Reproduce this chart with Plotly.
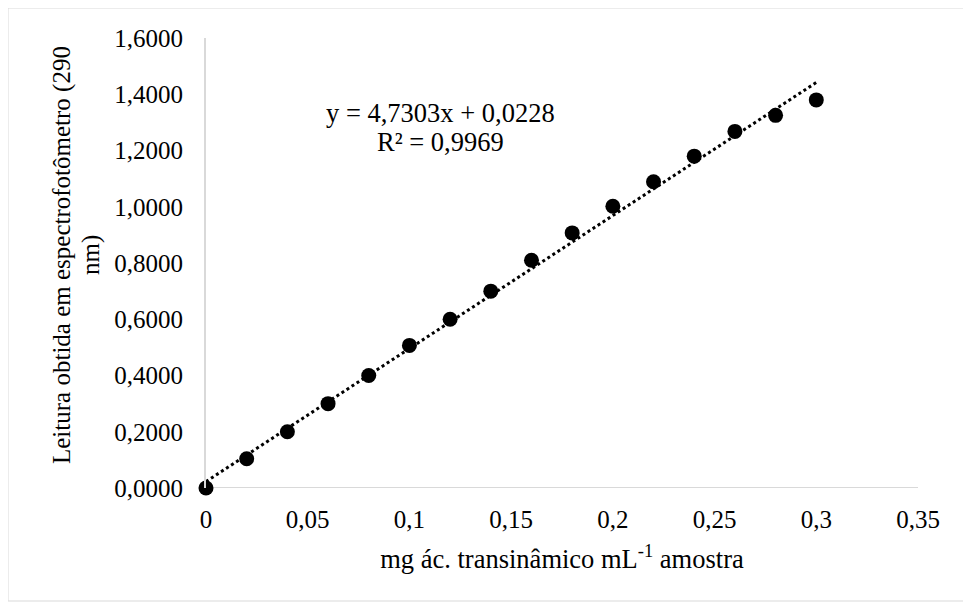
import plotly.graph_objects as go

# Data
conc = [0, 0.02, 0.04, 0.06, 0.08, 0.10, 0.12, 0.14, 0.16, 0.18, 0.20, 0.22, 0.24, 0.26, 0.28, 0.30]
absorb = [0.0, 0.104, 0.200, 0.300, 0.400, 0.507, 0.600, 0.700, 0.810, 0.907, 1.002, 1.089, 1.180, 1.268, 1.325, 1.380]
slope = 4.7303
intercept = 0.0228
r2 = 0.9969
x_ticks = [0, 0.05, 0.10, 0.15, 0.20, 0.25, 0.30, 0.35]
x_tick_text = ["0", "0,05", "0,1", "0,15", "0,2", "0,25", "0,3", "0,35"]
y_ticks = [0, 0.2, 0.4, 0.6, 0.8, 1.0, 1.2, 1.4, 1.6]
y_tick_text = ["0,0000", "0,2000", "0,4000", "0,6000", "0,8000", "1,0000", "1,2000", "1,4000", "1,6000"]
eq_lines = ["y = 4,7303x + 0,0228", "R² = 0,9969"]
y_title_lines = ["Leitura obtida em espectrofotômetro (290", "nm)"]
x_title = "mg ác. transinâmico mL<sup>-1</sup> amostra"

trend_x = [conc[0], conc[-1]]
trend_y = [slope * v + intercept for v in trend_x]

FONT = "Liberation Serif, Times New Roman, serif"
FS = 25
FS_EQ = 26.5

L, R, T, B = 198, 61, 30, 125
W, H = 971, 605
pw, ph = W - L - R, H - T - B

fig = go.Figure()
fig.add_trace(go.Scatter(x=trend_x, y=trend_y, mode="lines",
                         line=dict(color="black", width=3, dash="dot"),
                         hoverinfo="skip", showlegend=False, cliponaxis=False))
fig.add_trace(go.Scatter(x=conc, y=absorb, mode="markers",
                         marker=dict(color="black", size=15),
                         showlegend=False, cliponaxis=False))

fig.add_annotation(x=0.1151, y=1.333, xref="x", yref="y", text=eq_lines[0],
                   showarrow=False, font=dict(family=FONT, size=FS_EQ, color="black"))
fig.add_annotation(x=0.1151, y=1.231, xref="x", yref="y", text=eq_lines[1],
                   showarrow=False, font=dict(family=FONT, size=FS_EQ, color="black"))

for fx, line in zip([54, 83], y_title_lines):
    fig.add_annotation(x=(fx - L) / pw, y=(H - B - 247) / ph, xref="paper", yref="paper",
                       text=line, textangle=-90, showarrow=False,
                       xanchor="center", yanchor="middle",
                       font=dict(family=FONT, size=FS, color="black"))

fig.add_shape(type="rect", xref="paper", yref="paper",
              x0=(0 - L) / pw, x1=(960 - L) / pw,
              y0=(H - B - 593) / ph, y1=(H - B - 0) / ph,
              line=dict(color="#d9d9d9", width=1), fillcolor="rgba(0,0,0,0)", layer="below")
fig.add_shape(type="line", xref="x", yref="y", x0=0, x1=0.35, y0=0, y1=0,
              line=dict(color="#d9d9d9", width=2), layer="below")

fig.update_layout(
    width=W, height=H,
    margin=dict(l=L, r=R, t=T, b=B, autoexpand=False),
    plot_bgcolor="white", paper_bgcolor="white",
    font=dict(family=FONT, size=FS, color="black"),
    xaxis=dict(range=[0, 0.35], tickvals=x_ticks, ticktext=x_tick_text,
               showgrid=False, zeroline=False, showline=False, automargin=False,
               ticks="outside", ticklen=9, tickcolor="rgba(0,0,0,0)",
               tickfont=dict(family=FONT, size=FS, color="black"),
               title=dict(text=x_title,
                          font=dict(family=FONT, size=FS_EQ, color="black"), standoff=17)),
    yaxis=dict(range=[0, 1.6], tickvals=y_ticks, ticktext=y_tick_text,
               showgrid=False, zeroline=False, showline=True, linecolor="#d9d9d9", linewidth=2,
               automargin=False,
               ticks="outside", ticklen=16, tickcolor="rgba(0,0,0,0)",
               tickfont=dict(family=FONT, size=FS, color="black")),
)

fig.write_html("out.html")
